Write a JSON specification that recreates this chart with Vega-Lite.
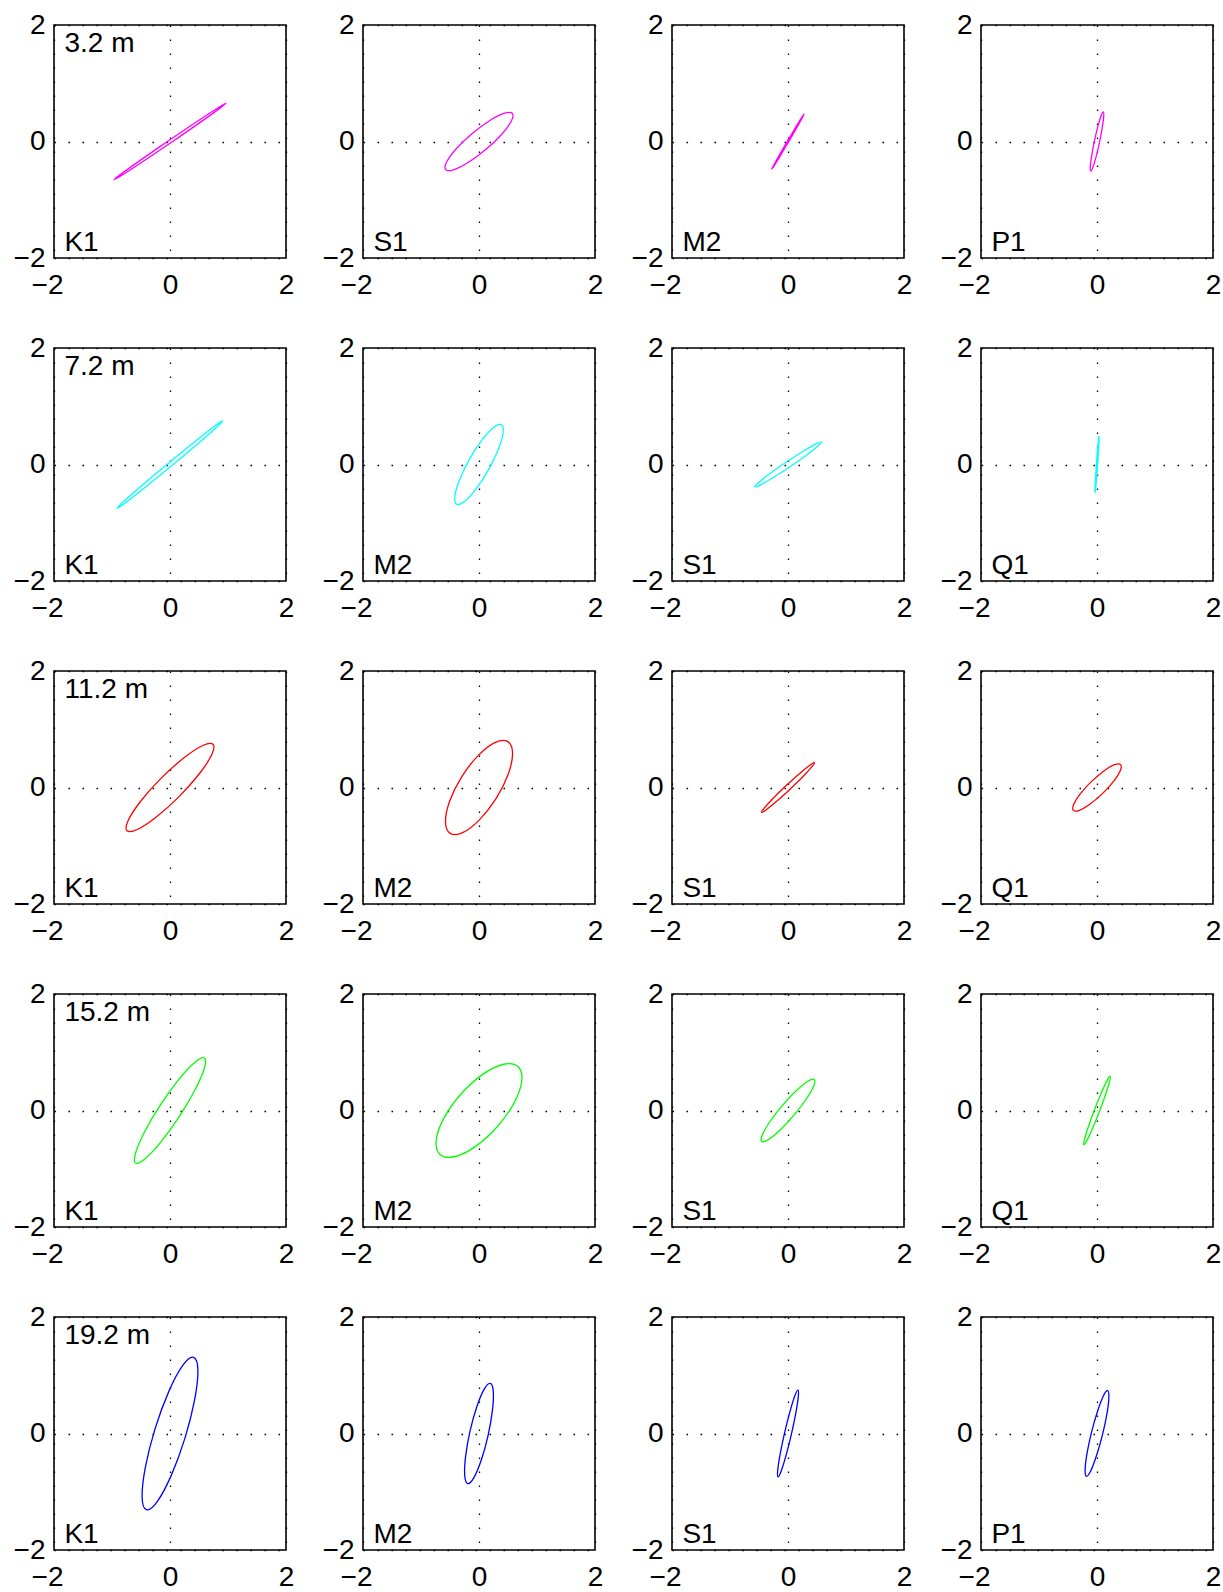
{
"$schema":"https://vega.github.io/schema/vega-lite/v6.json",
"padding":{"left":12,"top":10,"right":5,"bottom":5},
"background":"white",
"data":{"values":[
{"r":1,"c":1,"con":"K1","d":"3.2 m"},{"r":1,"c":2,"con":"S1"},{"r":1,"c":3,"con":"M2"},{"r":1,"c":4,"con":"P1"},
{"r":2,"c":1,"con":"K1","d":"7.2 m"},{"r":2,"c":2,"con":"M2"},{"r":2,"c":3,"con":"S1"},{"r":2,"c":4,"con":"Q1"},
{"r":3,"c":1,"con":"K1","d":"11.2 m"},{"r":3,"c":2,"con":"M2"},{"r":3,"c":3,"con":"S1"},{"r":3,"c":4,"con":"Q1"},
{"r":4,"c":1,"con":"K1","d":"15.2 m"},{"r":4,"c":2,"con":"M2"},{"r":4,"c":3,"con":"S1"},{"r":4,"c":4,"con":"Q1"},
{"r":5,"c":1,"con":"K1","d":"19.2 m"},{"r":5,"c":2,"con":"M2"},{"r":5,"c":3,"con":"S1"},{"r":5,"c":4,"con":"P1"},
{"r":1,"c":1,"i":0,"x":0.968,"y":0.658},{"r":1,"c":1,"i":1,"x":0.831,"y":0.580},{"r":1,"c":1,"i":2,"x":0.472,"y":0.347},{"r":1,"c":1,"i":3,"x":-0.014,"y":0.021},{"r":1,"c":1,"i":4,"x":-0.496,"y":-0.311},{"r":1,"c":1,"i":5,"x":-0.845,"y":-0.560},{"r":1,"c":1,"i":6,"x":-0.968,"y":-0.658},{"r":1,"c":1,"i":7,"x":-0.831,"y":-0.580},{"r":1,"c":1,"i":8,"x":-0.472,"y":-0.347},{"r":1,"c":1,"i":9,"x":0.014,"y":-0.021},{"r":1,"c":1,"i":10,"x":0.496,"y":0.311},{"r":1,"c":1,"i":11,"x":0.845,"y":0.560},
{"r":1,"c":2,"i":0,"x":0.575,"y":0.482},{"r":1,"c":2,"i":1,"x":0.440,"y":0.486},{"r":1,"c":2,"i":2,"x":0.188,"y":0.361},{"r":1,"c":2,"i":3,"x":-0.116,"y":0.138},{"r":1,"c":2,"i":4,"x":-0.388,"y":-0.121},{"r":1,"c":2,"i":5,"x":-0.556,"y":-0.348},{"r":1,"c":2,"i":6,"x":-0.575,"y":-0.482},{"r":1,"c":2,"i":7,"x":-0.440,"y":-0.486},{"r":1,"c":2,"i":8,"x":-0.188,"y":-0.361},{"r":1,"c":2,"i":9,"x":0.116,"y":-0.138},{"r":1,"c":2,"i":10,"x":0.388,"y":0.121},{"r":1,"c":2,"i":11,"x":0.556,"y":0.348},
{"r":1,"c":3,"i":0,"x":0.279,"y":0.474},{"r":1,"c":3,"i":1,"x":0.237,"y":0.413},{"r":1,"c":3,"i":2,"x":0.131,"y":0.242},{"r":1,"c":3,"i":3,"x":-0.010,"y":0.006},{"r":1,"c":3,"i":4,"x":-0.149,"y":-0.232},{"r":1,"c":3,"i":5,"x":-0.247,"y":-0.407},{"r":1,"c":3,"i":6,"x":-0.279,"y":-0.474},{"r":1,"c":3,"i":7,"x":-0.237,"y":-0.413},{"r":1,"c":3,"i":8,"x":-0.131,"y":-0.242},{"r":1,"c":3,"i":9,"x":0.010,"y":-0.006},{"r":1,"c":3,"i":10,"x":0.149,"y":0.232},{"r":1,"c":3,"i":11,"x":0.247,"y":0.407},
{"r":1,"c":4,"i":0,"x":0.108,"y":0.509},{"r":1,"c":4,"i":1,"x":0.072,"y":0.446},{"r":1,"c":4,"i":2,"x":0.016,"y":0.263},{"r":1,"c":4,"i":3,"x":-0.044,"y":0.009},{"r":1,"c":4,"i":4,"x":-0.092,"y":-0.247},{"r":1,"c":4,"i":5,"x":-0.116,"y":-0.436},{"r":1,"c":4,"i":6,"x":-0.108,"y":-0.509},{"r":1,"c":4,"i":7,"x":-0.072,"y":-0.446},{"r":1,"c":4,"i":8,"x":-0.016,"y":-0.263},{"r":1,"c":4,"i":9,"x":0.044,"y":-0.009},{"r":1,"c":4,"i":10,"x":0.092,"y":0.247},{"r":1,"c":4,"i":11,"x":0.116,"y":0.436},
{"r":2,"c":1,"i":0,"x":0.911,"y":0.750},{"r":2,"c":1,"i":1,"x":0.778,"y":0.664},{"r":2,"c":1,"i":2,"x":0.437,"y":0.398},{"r":2,"c":1,"i":3,"x":-0.022,"y":0.027},{"r":2,"c":1,"i":4,"x":-0.475,"y":-0.352},{"r":2,"c":1,"i":5,"x":-0.800,"y":-0.636},{"r":2,"c":1,"i":6,"x":-0.911,"y":-0.750},{"r":2,"c":1,"i":7,"x":-0.778,"y":-0.664},{"r":2,"c":1,"i":8,"x":-0.437,"y":-0.398},{"r":2,"c":1,"i":9,"x":0.022,"y":-0.027},{"r":2,"c":1,"i":10,"x":0.475,"y":0.352},{"r":2,"c":1,"i":11,"x":0.800,"y":0.636},
{"r":2,"c":2,"i":0,"x":0.386,"y":0.683},{"r":2,"c":2,"i":1,"x":0.252,"y":0.637},{"r":2,"c":2,"i":2,"x":0.052,"y":0.422},{"r":2,"c":2,"i":3,"x":-0.163,"y":0.092},{"r":2,"c":2,"i":4,"x":-0.334,"y":-0.262},{"r":2,"c":2,"i":5,"x":-0.416,"y":-0.545},{"r":2,"c":2,"i":6,"x":-0.386,"y":-0.683},{"r":2,"c":2,"i":7,"x":-0.252,"y":-0.637},{"r":2,"c":2,"i":8,"x":-0.052,"y":-0.422},{"r":2,"c":2,"i":9,"x":0.163,"y":-0.092},{"r":2,"c":2,"i":10,"x":0.334,"y":0.262},{"r":2,"c":2,"i":11,"x":0.416,"y":0.545},
{"r":2,"c":3,"i":0,"x":0.573,"y":0.384},{"r":2,"c":3,"i":1,"x":0.482,"y":0.354},{"r":2,"c":3,"i":2,"x":0.263,"y":0.228},{"r":2,"c":3,"i":3,"x":-0.028,"y":0.042},{"r":2,"c":3,"i":4,"x":-0.311,"y":-0.156},{"r":2,"c":3,"i":5,"x":-0.510,"y":-0.312},{"r":2,"c":3,"i":6,"x":-0.573,"y":-0.384},{"r":2,"c":3,"i":7,"x":-0.482,"y":-0.354},{"r":2,"c":3,"i":8,"x":-0.263,"y":-0.228},{"r":2,"c":3,"i":9,"x":0.028,"y":-0.042},{"r":2,"c":3,"i":10,"x":0.311,"y":0.156},{"r":2,"c":3,"i":11,"x":0.510,"y":0.312},
{"r":2,"c":4,"i":0,"x":0.034,"y":0.485},{"r":2,"c":4,"i":1,"x":0.024,"y":0.420},{"r":2,"c":4,"i":2,"x":0.008,"y":0.244},{"r":2,"c":4,"i":3,"x":-0.010,"y":0.001},{"r":2,"c":4,"i":4,"x":-0.026,"y":-0.242},{"r":2,"c":4,"i":5,"x":-0.034,"y":-0.420},{"r":2,"c":4,"i":6,"x":-0.034,"y":-0.485},{"r":2,"c":4,"i":7,"x":-0.024,"y":-0.420},{"r":2,"c":4,"i":8,"x":-0.008,"y":-0.244},{"r":2,"c":4,"i":9,"x":0.010,"y":-0.001},{"r":2,"c":4,"i":10,"x":0.026,"y":0.242},{"r":2,"c":4,"i":11,"x":0.034,"y":0.420},
{"r":3,"c":1,"i":0,"x":0.742,"y":0.742},{"r":3,"c":1,"i":1,"x":0.565,"y":0.721},{"r":3,"c":1,"i":2,"x":0.236,"y":0.506},{"r":3,"c":1,"i":3,"x":-0.156,"y":0.156},{"r":3,"c":1,"i":4,"x":-0.506,"y":-0.236},{"r":3,"c":1,"i":5,"x":-0.721,"y":-0.565},{"r":3,"c":1,"i":6,"x":-0.742,"y":-0.742},{"r":3,"c":1,"i":7,"x":-0.565,"y":-0.721},{"r":3,"c":1,"i":8,"x":-0.236,"y":-0.506},{"r":3,"c":1,"i":9,"x":0.156,"y":-0.156},{"r":3,"c":1,"i":10,"x":0.506,"y":0.236},{"r":3,"c":1,"i":11,"x":0.721,"y":0.565},
{"r":3,"c":2,"i":0,"x":0.497,"y":0.787},{"r":3,"c":2,"i":1,"x":0.282,"y":0.776},{"r":3,"c":2,"i":2,"x":-0.007,"y":0.556},{"r":3,"c":2,"i":3,"x":-0.296,"y":0.187},{"r":3,"c":2,"i":4,"x":-0.505,"y":-0.232},{"r":3,"c":2,"i":5,"x":-0.578,"y":-0.588},{"r":3,"c":2,"i":6,"x":-0.497,"y":-0.787},{"r":3,"c":2,"i":7,"x":-0.282,"y":-0.776},{"r":3,"c":2,"i":8,"x":0.007,"y":-0.556},{"r":3,"c":2,"i":9,"x":0.296,"y":-0.187},{"r":3,"c":2,"i":10,"x":0.505,"y":0.232},{"r":3,"c":2,"i":11,"x":0.578,"y":0.588},
{"r":3,"c":3,"i":0,"x":0.456,"y":0.426},{"r":3,"c":3,"i":1,"x":0.380,"y":0.385},{"r":3,"c":3,"i":2,"x":0.201,"y":0.242},{"r":3,"c":3,"i":3,"x":-0.031,"y":0.033},{"r":3,"c":3,"i":4,"x":-0.255,"y":-0.184},{"r":3,"c":3,"i":5,"x":-0.410,"y":-0.353},{"r":3,"c":3,"i":6,"x":-0.456,"y":-0.426},{"r":3,"c":3,"i":7,"x":-0.380,"y":-0.385},{"r":3,"c":3,"i":8,"x":-0.201,"y":-0.242},{"r":3,"c":3,"i":9,"x":0.031,"y":-0.033},{"r":3,"c":3,"i":10,"x":0.255,"y":0.184},{"r":3,"c":3,"i":11,"x":0.410,"y":0.353},
{"r":3,"c":4,"i":0,"x":0.407,"y":0.393},{"r":3,"c":4,"i":1,"x":0.303,"y":0.391},{"r":3,"c":4,"i":2,"x":0.119,"y":0.284},{"r":3,"c":4,"i":3,"x":-0.098,"y":0.101},{"r":3,"c":4,"i":4,"x":-0.289,"y":-0.110},{"r":3,"c":4,"i":5,"x":-0.401,"y":-0.289},{"r":3,"c":4,"i":6,"x":-0.407,"y":-0.393},{"r":3,"c":4,"i":7,"x":-0.303,"y":-0.391},{"r":3,"c":4,"i":8,"x":-0.119,"y":-0.284},{"r":3,"c":4,"i":9,"x":0.098,"y":-0.101},{"r":3,"c":4,"i":10,"x":0.289,"y":0.110},{"r":3,"c":4,"i":11,"x":0.401,"y":0.289},
{"r":4,"c":1,"i":0,"x":0.594,"y":0.902},{"r":4,"c":1,"i":1,"x":0.435,"y":0.833},{"r":4,"c":1,"i":2,"x":0.159,"y":0.542},{"r":4,"c":1,"i":3,"x":-0.159,"y":0.105},{"r":4,"c":1,"i":4,"x":-0.435,"y":-0.360},{"r":4,"c":1,"i":5,"x":-0.593,"y":-0.729},{"r":4,"c":1,"i":6,"x":-0.594,"y":-0.902},{"r":4,"c":1,"i":7,"x":-0.435,"y":-0.833},{"r":4,"c":1,"i":8,"x":-0.159,"y":-0.542},{"r":4,"c":1,"i":9,"x":0.159,"y":-0.105},{"r":4,"c":1,"i":10,"x":0.435,"y":0.360},{"r":4,"c":1,"i":11,"x":0.593,"y":0.729},
{"r":4,"c":2,"i":0,"x":0.671,"y":0.755},{"r":4,"c":2,"i":1,"x":0.424,"y":0.794},{"r":4,"c":2,"i":2,"x":0.064,"y":0.620},{"r":4,"c":2,"i":3,"x":-0.314,"y":0.279},{"r":4,"c":2,"i":4,"x":-0.608,"y":-0.136},{"r":4,"c":2,"i":5,"x":-0.738,"y":-0.514},{"r":4,"c":2,"i":6,"x":-0.671,"y":-0.755},{"r":4,"c":2,"i":7,"x":-0.424,"y":-0.794},{"r":4,"c":2,"i":8,"x":-0.064,"y":-0.620},{"r":4,"c":2,"i":9,"x":0.314,"y":-0.279},{"r":4,"c":2,"i":10,"x":0.608,"y":0.136},{"r":4,"c":2,"i":11,"x":0.738,"y":0.514},
{"r":4,"c":3,"i":0,"x":0.454,"y":0.532},{"r":4,"c":3,"i":1,"x":0.343,"y":0.503},{"r":4,"c":3,"i":2,"x":0.141,"y":0.339},{"r":4,"c":3,"i":3,"x":-0.099,"y":0.084},{"r":4,"c":3,"i":4,"x":-0.313,"y":-0.193},{"r":4,"c":3,"i":5,"x":-0.443,"y":-0.419},{"r":4,"c":3,"i":6,"x":-0.454,"y":-0.532},{"r":4,"c":3,"i":7,"x":-0.343,"y":-0.503},{"r":4,"c":3,"i":8,"x":-0.141,"y":-0.339},{"r":4,"c":3,"i":9,"x":0.099,"y":-0.084},{"r":4,"c":3,"i":10,"x":0.313,"y":0.193},{"r":4,"c":3,"i":11,"x":0.443,"y":0.419},
{"r":4,"c":4,"i":0,"x":0.226,"y":0.588},{"r":4,"c":4,"i":1,"x":0.175,"y":0.517},{"r":4,"c":4,"i":2,"x":0.077,"y":0.308},{"r":4,"c":4,"i":3,"x":-0.042,"y":0.016},{"r":4,"c":4,"i":4,"x":-0.149,"y":-0.280},{"r":4,"c":4,"i":5,"x":-0.217,"y":-0.501},{"r":4,"c":4,"i":6,"x":-0.226,"y":-0.588},{"r":4,"c":4,"i":7,"x":-0.175,"y":-0.517},{"r":4,"c":4,"i":8,"x":-0.077,"y":-0.308},{"r":4,"c":4,"i":9,"x":0.042,"y":-0.016},{"r":4,"c":4,"i":10,"x":0.149,"y":0.280},{"r":4,"c":4,"i":11,"x":0.217,"y":0.501},
{"r":5,"c":1,"i":0,"x":0.406,"y":1.308},{"r":5,"c":1,"i":1,"x":0.223,"y":1.173},{"r":5,"c":1,"i":2,"x":-0.020,"y":0.723},{"r":5,"c":1,"i":3,"x":-0.258,"y":0.080},{"r":5,"c":1,"i":4,"x":-0.426,"y":-0.585},{"r":5,"c":1,"i":5,"x":-0.481,"y":-1.093},{"r":5,"c":1,"i":6,"x":-0.406,"y":-1.308},{"r":5,"c":1,"i":7,"x":-0.223,"y":-1.173},{"r":5,"c":1,"i":8,"x":0.020,"y":-0.723},{"r":5,"c":1,"i":9,"x":0.258,"y":-0.080},{"r":5,"c":1,"i":10,"x":0.426,"y":0.585},{"r":5,"c":1,"i":11,"x":0.481,"y":1.093},
{"r":5,"c":2,"i":0,"x":0.194,"y":0.859},{"r":5,"c":2,"i":1,"x":0.090,"y":0.762},{"r":5,"c":2,"i":2,"x":-0.038,"y":0.460},{"r":5,"c":2,"i":3,"x":-0.156,"y":0.035},{"r":5,"c":2,"i":4,"x":-0.232,"y":-0.400},{"r":5,"c":2,"i":5,"x":-0.246,"y":-0.726},{"r":5,"c":2,"i":6,"x":-0.194,"y":-0.859},{"r":5,"c":2,"i":7,"x":-0.090,"y":-0.762},{"r":5,"c":2,"i":8,"x":0.038,"y":-0.460},{"r":5,"c":2,"i":9,"x":0.156,"y":-0.035},{"r":5,"c":2,"i":10,"x":0.232,"y":0.400},{"r":5,"c":2,"i":11,"x":0.246,"y":0.726},
{"r":5,"c":3,"i":0,"x":0.172,"y":0.744},{"r":5,"c":3,"i":1,"x":0.120,"y":0.651},{"r":5,"c":3,"i":2,"x":0.036,"y":0.384},{"r":5,"c":3,"i":3,"x":-0.058,"y":0.014},{"r":5,"c":3,"i":4,"x":-0.136,"y":-0.360},{"r":5,"c":3,"i":5,"x":-0.178,"y":-0.637},{"r":5,"c":3,"i":6,"x":-0.172,"y":-0.744},{"r":5,"c":3,"i":7,"x":-0.120,"y":-0.651},{"r":5,"c":3,"i":8,"x":-0.036,"y":-0.384},{"r":5,"c":3,"i":9,"x":0.058,"y":-0.014},{"r":5,"c":3,"i":10,"x":0.136,"y":0.360},{"r":5,"c":3,"i":11,"x":0.178,"y":0.637},
{"r":5,"c":4,"i":0,"x":0.183,"y":0.734},{"r":5,"c":4,"i":1,"x":0.111,"y":0.648},{"r":5,"c":4,"i":2,"x":0.011,"y":0.387},{"r":5,"c":4,"i":3,"x":-0.094,"y":0.023},{"r":5,"c":4,"i":4,"x":-0.173,"y":-0.347},{"r":5,"c":4,"i":5,"x":-0.205,"y":-0.624},{"r":5,"c":4,"i":6,"x":-0.183,"y":-0.734},{"r":5,"c":4,"i":7,"x":-0.111,"y":-0.648},{"r":5,"c":4,"i":8,"x":-0.011,"y":-0.387},{"r":5,"c":4,"i":9,"x":0.094,"y":-0.023},{"r":5,"c":4,"i":10,"x":0.173,"y":0.347},{"r":5,"c":4,"i":11,"x":0.205,"y":0.624}
]},
"facet":{
"row":{"field":"r","type":"ordinal","header":null},
"column":{"field":"c","type":"ordinal","header":null}
},
"spacing":{"row":90,"column":77},
"bounds":"flush",
"resolve":{"axis":{"x":"independent","y":"independent"}},
"spec":{
"width":232,"height":233,
"layer":[
{"transform":[{"filter":"isValid(datum.x)"}],
"mark":{"type":"line","interpolate":"cardinal-closed","strokeWidth":1.3},
"encoding":{
"x":{"field":"x","type":"quantitative","scale":{"domain":[-2,2],"nice":false,"zero":false},
"axis":{"values":[-2,0,2],"format":"~g","title":null,"grid":true,"gridDash":[1.6,12.4],"gridColor":"#000","gridWidth":1.3,"gridOpacity":1,"domain":false,"ticks":false,"tickSize":0,"labelFont":"Liberation Sans","labelFontSize":28,"labelColor":"#000","labelPadding":13,"labelOverlap":false,"labelFlush":false,"labelOffset":{"condition":{"test":"datum.value < 0","value":-7},"value":0}}},
"y":{"field":"y","type":"quantitative","scale":{"domain":[-2,2],"nice":false,"zero":false},
"axis":{"values":[-2,0,2],"format":"~g","title":null,"grid":true,"gridDash":[1.6,12.4],"gridColor":"#000","gridWidth":1.3,"gridOpacity":1,"domain":false,"ticks":false,"tickSize":0,"labelFont":"Liberation Sans","labelFontSize":28,"labelColor":"#000","labelPadding":9,"labelOverlap":false,"labelFlush":false}},
"color":{"field":"r","type":"nominal","scale":{"domain":[1,2,3,4,5],"range":["#ff00ff","#00ffff","#ff0000","#00ff00","#0000ff"]},"legend":null},
"order":{"field":"i","type":"quantitative"}
}},
{"transform":[{"filter":"isValid(datum.con)"}],
"mark":{"type":"text","align":"left","baseline":"alphabetic","font":"Liberation Sans","fontSize":28,"color":"#000"},
"encoding":{"x":{"datum":-1.82,"type":"quantitative"},"y":{"datum":-1.875,"type":"quantitative"},"text":{"field":"con"}}},
{"transform":[{"filter":"isValid(datum.d)"}],
"mark":{"type":"text","align":"left","baseline":"alphabetic","font":"Liberation Sans","fontSize":28,"color":"#000"},
"encoding":{"x":{"datum":-1.82,"type":"quantitative"},"y":{"datum":1.53,"type":"quantitative"},"text":{"field":"d"}}}
]},
"config":{"view":{"stroke":"#000","strokeWidth":1.6},"font":"Liberation Sans"}
}
